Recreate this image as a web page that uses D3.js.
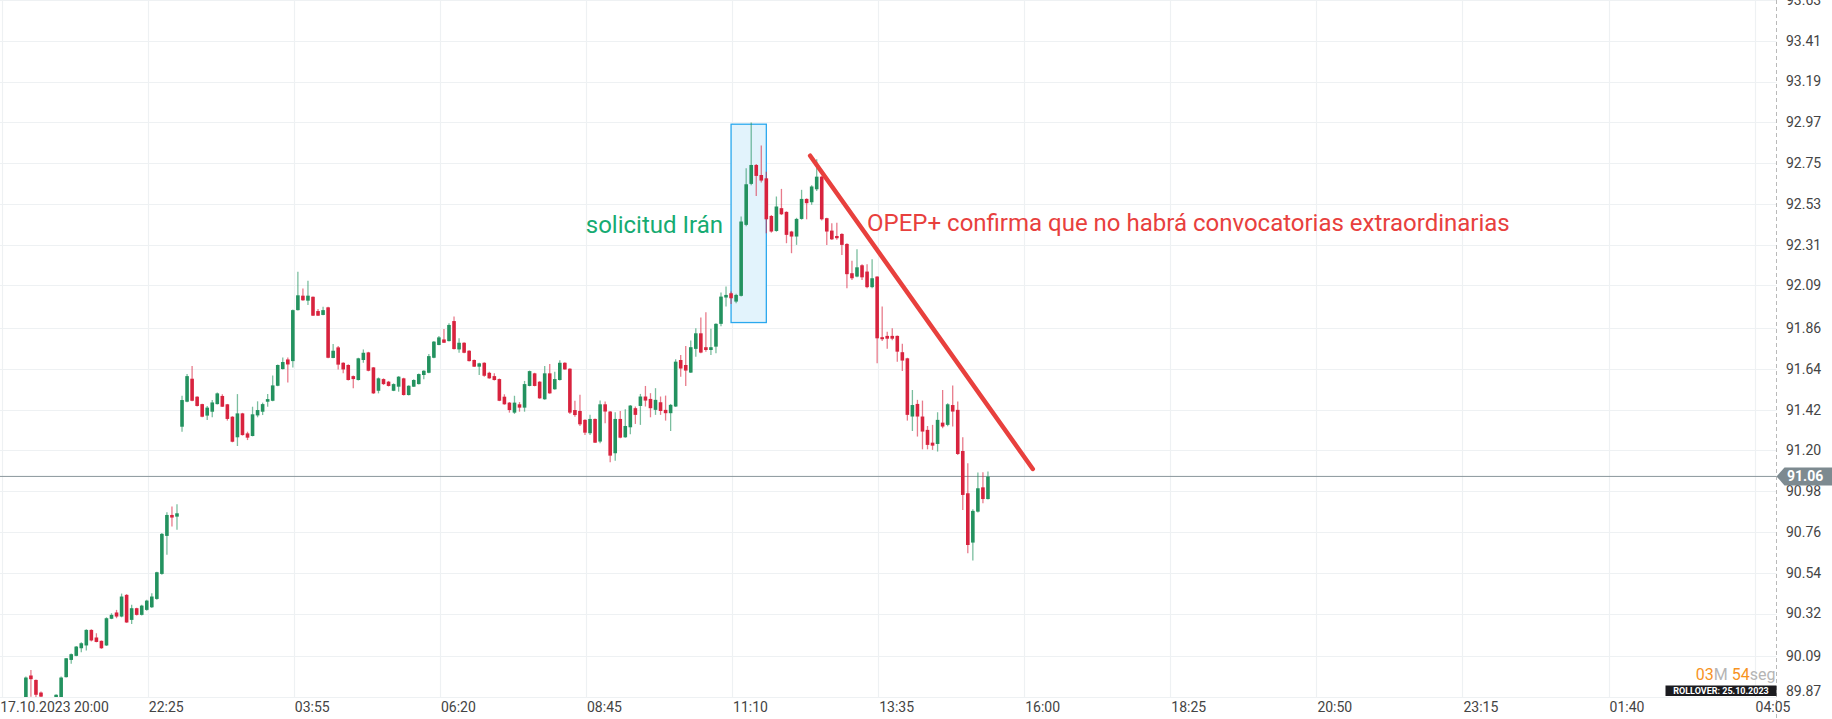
<!DOCTYPE html>
<html>
<head>
<meta charset="utf-8">
<script src="https://d3js.org/d3.v7.min.js"></script>
<style>
  body { margin: 0; background: #fff; }
  svg { display: block; font-family: Roboto, sans-serif; }
</style>
</head>
<body>
<div id="chart"></div>
<script>
// 5 minute bars, bar index 0 = 17.10.2023 20:00
const firstBar = 4;
// [open, high, low, close]
const ohlc = [
  [89.840, 89.980, 89.800, 89.975], [89.986, 90.016, 89.872, 89.966], [89.962, 89.965, 89.870, 89.882], [89.894, 89.900, 89.860, 89.872],
  [89.860, 89.865, 89.820, 89.840], [89.840, 89.860, 89.820, 89.855], [89.869, 89.885, 89.860, 89.882], [89.865, 89.980, 89.860, 89.975],
  [89.977, 90.080, 89.975, 90.079], [90.070, 90.105, 90.049, 90.101], [90.092, 90.145, 90.090, 90.142], [90.133, 90.165, 90.112, 90.160],
  [90.148, 90.235, 90.121, 90.232], [90.232, 90.235, 90.170, 90.175], [90.191, 90.214, 90.165, 90.167], [90.173, 90.175, 90.130, 90.133],
  [90.148, 90.300, 90.145, 90.295], [90.292, 90.322, 90.290, 90.313], [90.326, 90.340, 90.295, 90.304], [90.304, 90.428, 90.300, 90.412],
  [90.421, 90.425, 90.270, 90.272], [90.286, 90.367, 90.264, 90.349], [90.349, 90.352, 90.310, 90.313], [90.313, 90.367, 90.310, 90.363],
  [90.340, 90.395, 90.335, 90.390], [90.354, 90.430, 90.350, 90.412], [90.399, 90.545, 90.395, 90.543], [90.534, 90.755, 90.530, 90.750],
  [90.739, 90.867, 90.637, 90.852], [90.852, 90.897, 90.790, 90.838], [90.843, 90.910, 90.772, 90.861],
  // 35
  [91.328, 91.495, 91.301, 91.472], [91.463, 91.612, 91.460, 91.601], [91.587, 91.655, 91.465, 91.468], [91.490, 91.492, 91.437, 91.440],
  [91.450, 91.452, 91.379, 91.382], [91.388, 91.440, 91.364, 91.431], [91.409, 91.472, 91.379, 91.459], [91.450, 91.513, 91.448, 91.508],
  [91.494, 91.503, 91.434, 91.436], [91.449, 91.451, 91.361, 91.370], [91.382, 91.385, 91.244, 91.247], [91.271, 91.504, 91.224, 91.400],
  [91.400, 91.403, 91.280, 91.283], [91.292, 91.301, 91.256, 91.269], [91.278, 91.436, 91.276, 91.395], [91.389, 91.465, 91.379, 91.418],
  [91.409, 91.458, 91.391, 91.450], [91.463, 91.504, 91.436, 91.477], [91.468, 91.605, 91.466, 91.551], [91.549, 91.664, 91.547, 91.661],
  [91.639, 91.702, 91.637, 91.677], [91.691, 91.702, 91.567, 91.664], [91.682, 91.960, 91.648, 91.957], [91.957, 92.164, 91.955, 92.037],
  [92.035, 92.073, 92.008, 92.010], [92.008, 92.116, 91.984, 92.035], [92.029, 92.031, 91.925, 91.927], [91.952, 91.963, 91.925, 91.927],
  [91.931, 91.975, 91.929, 91.957], [91.972, 91.975, 91.698, 91.700],
  // 65
  [91.699, 91.774, 91.697, 91.738], [91.756, 91.763, 91.637, 91.663], [91.673, 91.676, 91.616, 91.637], [91.661, 91.665, 91.578, 91.580],
  [91.601, 91.604, 91.535, 91.585], [91.580, 91.700, 91.578, 91.697], [91.688, 91.745, 91.673, 91.727], [91.729, 91.732, 91.627, 91.630],
  [91.648, 91.650, 91.505, 91.508], [91.522, 91.594, 91.508, 91.589], [91.585, 91.589, 91.553, 91.558], [91.571, 91.575, 91.545, 91.548],
  [91.522, 91.562, 91.520, 91.558], [91.544, 91.601, 91.517, 91.598], [91.589, 91.592, 91.497, 91.499], [91.499, 91.552, 91.497, 91.549],
  [91.544, 91.584, 91.542, 91.580], [91.558, 91.615, 91.556, 91.612], [91.607, 91.633, 91.584, 91.630], [91.619, 91.720, 91.617, 91.709],
  [91.700, 91.790, 91.698, 91.787], [91.769, 91.817, 91.767, 91.810], [91.799, 91.855, 91.779, 91.781], [91.790, 91.886, 91.788, 91.877],
  [91.898, 91.922, 91.745, 91.747], [91.745, 91.805, 91.727, 91.781], [91.781, 91.784, 91.724, 91.727], [91.738, 91.741, 91.680, 91.682],
  [91.688, 91.690, 91.650, 91.652], [91.652, 91.673, 91.607, 91.670],
  // 95
  [91.673, 91.676, 91.598, 91.603], [91.619, 91.625, 91.587, 91.589], [91.601, 91.616, 91.578, 91.580], [91.585, 91.588, 91.466, 91.468],
  [91.490, 91.503, 91.447, 91.449], [91.458, 91.461, 91.404, 91.418], [91.404, 91.495, 91.397, 91.458], [91.449, 91.461, 91.409, 91.431],
  [91.431, 91.575, 91.409, 91.558], [91.548, 91.631, 91.546, 91.628], [91.616, 91.619, 91.546, 91.548], [91.571, 91.574, 91.479, 91.481],
  [91.476, 91.655, 91.474, 91.616], [91.616, 91.666, 91.506, 91.508], [91.530, 91.625, 91.528, 91.585], [91.580, 91.686, 91.578, 91.673],
  [91.673, 91.676, 91.635, 91.637], [91.641, 91.644, 91.397, 91.404], [91.418, 91.468, 91.382, 91.391], [91.413, 91.500, 91.332, 91.341],
  [91.365, 91.368, 91.284, 91.296], [91.293, 91.392, 91.284, 91.370], [91.370, 91.373, 91.240, 91.242], [91.248, 91.469, 91.239, 91.449],
  [91.449, 91.464, 91.347, 91.410],
  // 120
  [91.410, 91.413, 91.136, 91.172], [91.185, 91.406, 91.145, 91.370], [91.370, 91.413, 91.266, 91.269], [91.271, 91.422, 91.268, 91.332],
  [91.325, 91.445, 91.287, 91.442], [91.428, 91.437, 91.343, 91.392], [91.440, 91.505, 91.338, 91.491], [91.491, 91.548, 91.437, 91.469],
  [91.478, 91.509, 91.379, 91.428], [91.419, 91.536, 91.392, 91.473], [91.460, 91.491, 91.392, 91.413], [91.419, 91.496, 91.361, 91.401],
  [91.401, 91.451, 91.305, 91.446], [91.437, 91.692, 91.435, 91.679], [91.688, 91.715, 91.598, 91.642], [91.661, 91.764, 91.548, 91.631],
  [91.620, 91.793, 91.618, 91.757], [91.748, 91.859, 91.706, 91.832], [91.832, 91.917, 91.724, 91.728], [91.757, 91.945, 91.733, 91.742],
  [91.742, 91.856, 91.715, 91.757], [91.760, 91.886, 91.724, 91.883],
  // 142
  [91.883, 92.052, 91.870, 92.030], [92.025, 92.084, 91.976, 92.039], [92.048, 92.057, 91.990, 92.021], [92.003, 92.045, 91.994, 92.039],
  [92.034, 92.462, 92.030, 92.435], [92.417, 92.722, 92.410, 92.636], [92.638, 92.969, 92.630, 92.740], [92.740, 92.745, 92.573, 92.681],
  [92.686, 92.845, 92.645, 92.656], [92.668, 92.704, 92.372, 92.447], [92.465, 92.470, 92.375, 92.381], [92.384, 92.570, 92.380, 92.516],
  [92.507, 92.611, 92.470, 92.474], [92.487, 92.490, 92.318, 92.363], [92.381, 92.385, 92.264, 92.354], [92.354, 92.455, 92.309, 92.449],
  [92.449, 92.606, 92.445, 92.557], [92.557, 92.560, 92.447, 92.534], [92.539, 92.630, 92.525, 92.624], [92.609, 92.771, 92.600, 92.677],
  [92.677, 92.680, 92.440, 92.447], [92.453, 92.456, 92.309, 92.381], [92.386, 92.426, 92.335, 92.339], [92.357, 92.429, 92.336, 92.345],
  // 166
  [92.368, 92.372, 92.255, 92.309], [92.314, 92.318, 92.075, 92.151], [92.156, 92.224, 92.120, 92.129], [92.138, 92.286, 92.135, 92.188],
  [92.199, 92.205, 92.120, 92.134], [92.165, 92.205, 92.075, 92.081], [92.081, 92.232, 92.075, 92.129], [92.138, 92.140, 91.671, 91.805],
  [91.811, 91.976, 91.790, 91.800], [91.818, 91.841, 91.748, 91.803], [91.818, 91.859, 91.795, 91.803], [91.818, 91.820, 91.679, 91.733],
  [91.730, 91.775, 91.629, 91.685], [91.697, 91.700, 91.361, 91.392], [91.383, 91.526, 91.305, 91.445], [91.451, 91.473, 91.275, 91.383],
  [91.383, 91.469, 91.206, 91.302], [91.311, 91.332, 91.206, 91.230], [91.242, 91.338, 91.203, 91.226], [91.235, 91.406, 91.194, 91.365],
  [91.350, 91.526, 91.320, 91.329], [91.338, 91.455, 91.330, 91.449], [91.445, 91.550, 91.329, 91.410], [91.419, 91.464, 91.176, 91.181],
  [91.197, 91.271, 90.879, 90.960], [90.969, 91.131, 90.645, 90.690], [90.703, 90.883, 90.606, 90.874], [90.870, 91.081, 90.865, 90.996],
  [91.001, 91.082, 90.915, 90.938], [90.938, 91.086, 90.935, 91.059]
];

const xTickBars = [0, 29, 58, 87, 116, 145, 174, 203, 232, 261, 290, 319, 348];
const xTickLabels = ["17.10.2023 20:00", "22:25", "03:55", "06:20", "08:45", "11:10", "13:35",
  "16:00", "18:25", "20:50", "23:15", "01:40", "04:05"];
const yTickLabels = [93.63, 93.41, 93.19, 92.97, 92.75, 92.53, 92.31, 92.09, 91.86, 91.64,
  91.42, 91.20, 90.98, 90.76, 90.54, 90.32, 90.09, 89.87];

const lastPrice = 91.06;
// highlighted box (bar range / price range) and trend line (bar, price)
const boxBars = [144, 151];
const boxPrices = [91.89, 92.96];
const trendLine = [[159.7, 92.79], [203.9, 91.10]];
const notes = [
  { text: "solicitud Irán", bar: 142.4, price: 92.375, anchor: "end", color: "#16ab72" },
  { text: "OPEP+ confirma que no habrá convocatorias extraordinarias", bar: 171.0, price: 92.386, anchor: "start", color: "#e8403d" }
];

const width = 1832, height = 719;
const plotRight = 1776.5, plotBottom = 697;
const green = "#23925f", red = "#d8233e";

const data = ohlc.map((d, k) => ({ i: firstBar + k, o: d[0], h: d[1], l: d[2], c: d[3] }));

const svg = d3.select("#chart").append("svg")
  .attr("width", width)
  .attr("height", height);

const x = d3.scaleLinear().domain([0, 348]).range([1.7, 1754.6]);
const y = d3.scaleLinear().domain([89.87, 93.63]).range([plotBottom, 0]);
const barOffset = 0.8;   // candle centre sits a bit right of the time tick
const bodyW = 3.6;

svg.append("clipPath").attr("id", "plot-clip")
  .append("rect").attr("x", 0).attr("y", 0).attr("width", plotRight).attr("height", plotBottom);

// grid
const grid = svg.append("g").attr("class", "grid");
grid.selectAll(".hgrid")
  .data(yTickLabels)
  .enter().append("line")
  .attr("x1", 0).attr("x2", plotRight)
  .attr("y1", d => Math.round(y(d)) + 0.5).attr("y2", d => Math.round(y(d)) + 0.5)
  .attr("stroke", "#eef1f3").attr("stroke-width", 1.2);
grid.selectAll(".vgrid")
  .data(xTickBars)
  .enter().append("line")
  .attr("x1", d => Math.round(x(d)) + 0.5).attr("x2", d => Math.round(x(d)) + 0.5)
  .attr("y1", 0).attr("y2", plotBottom)
  .attr("stroke", "#eef1f3").attr("stroke-width", 1.2);

// right axis line
svg.append("line")
  .attr("x1", plotRight).attr("x2", plotRight)
  .attr("y1", 0).attr("y2", height)
  .attr("stroke", "#b9b9b9").attr("stroke-dasharray", "4,3");

const plot = svg.append("g").attr("clip-path", "url(#plot-clip)");

// current price line
plot.append("line")
  .attr("x1", 0).attr("x2", plotRight)
  .attr("y1", y(lastPrice)).attr("y2", y(lastPrice))
  .attr("stroke", "#8a969b").attr("stroke-width", 1);

// highlight box
plot.append("rect")
  .attr("x", x(boxBars[0] + barOffset))
  .attr("y", y(boxPrices[1]))
  .attr("width", x(boxBars[1] + barOffset) - x(boxBars[0] + barOffset))
  .attr("height", y(boxPrices[0]) - y(boxPrices[1]))
  .attr("fill", "#e2f3fc")
  .attr("stroke", "#2aa8ee")
  .attr("stroke-width", 1.3);

// candles
const candles = plot.append("g").attr("class", "candles")
  .selectAll("g")
  .data(data)
  .enter().append("g")
  .attr("transform", d => `translate(${x(d.i + barOffset)},0)`);

candles.append("line")
  .attr("y1", d => y(d.h)).attr("y2", d => y(d.l))
  .attr("stroke", d => d.c >= d.o ? green : red)
  .attr("stroke-opacity", 0.6)
  .attr("stroke-width", 1.3);

candles.append("rect")
  .attr("x", -bodyW / 2)
  .attr("width", bodyW)
  .attr("y", d => y(Math.max(d.o, d.c)))
  .attr("height", d => Math.max(1.5, Math.abs(y(d.o) - y(d.c))))
  .attr("fill", d => d.c >= d.o ? green : red);

// trend line
plot.append("line")
  .attr("x1", x(trendLine[0][0] + barOffset)).attr("y1", y(trendLine[0][1]))
  .attr("x2", x(trendLine[1][0] + barOffset)).attr("y2", y(trendLine[1][1]))
  .attr("stroke", "#e8403d").attr("stroke-width", 4.5)
  .attr("stroke-linecap", "round");

// notes
plot.selectAll(".note")
  .data(notes)
  .enter().append("text")
  .attr("x", d => x(d.bar + barOffset))
  .attr("y", d => y(d.price))
  .attr("text-anchor", d => d.anchor)
  .attr("fill", d => d.color)
  .style("font-size", "24px")
  .text(d => d.text);

// y labels
svg.append("g").selectAll("text")
  .data(yTickLabels)
  .enter().append("text")
  .attr("x", 1786)
  .attr("y", d => Math.min(y(d), 691))
  .attr("dy", "0.35em")
  .attr("fill", "#444")
  .style("font-size", "14px")
  .text(d => d.toFixed(2));

// x labels
svg.append("g").selectAll("text")
  .data(xTickBars)
  .enter().append("text")
  .attr("x", (d, k) => x(d) + (k === 0 ? -1.5 : 1))
  .attr("y", 712)
  .attr("fill", "#444")
  .style("font-size", "14px")
  .text((d, k) => xTickLabels[k]);

// last price tag
const ty = y(lastPrice);
svg.append("path")
  .attr("d", `M${plotRight},${ty} L${plotRight + 8},${ty - 9} L${width},${ty - 9} L${width},${ty + 9} L${plotRight + 8},${ty + 9} Z`)
  .attr("fill", "#7d8a90");
svg.append("text")
  .attr("x", 1787).attr("y", ty).attr("dy", "0.36em")
  .attr("fill", "#fff")
  .style("font-size", "14px").style("font-weight", "bold")
  .text(lastPrice.toFixed(2));

// countdown + rollover
const cd = svg.append("text")
  .attr("x", plotRight - 1).attr("y", 680)
  .attr("text-anchor", "end")
  .style("font-size", "16px");
cd.append("tspan").attr("fill", "#f7931e").text("03");
cd.append("tspan").attr("fill", "#b5b5b5").text("M ");
cd.append("tspan").attr("fill", "#f7931e").text("54");
cd.append("tspan").attr("fill", "#b5b5b5").text("seg");

svg.append("rect")
  .attr("x", 1665.5).attr("y", 685.5)
  .attr("width", plotRight - 1665.5).attr("height", 10.5)
  .attr("fill", "#1b1b1f");
svg.append("text")
  .attr("x", (1665.5 + plotRight) / 2).attr("y", 694)
  .attr("text-anchor", "middle")
  .attr("fill", "#fff")
  .style("font-size", "9px").style("font-weight", "bold")
  .text("ROLLOVER: 25.10.2023");
</script>
</body>
</html>
